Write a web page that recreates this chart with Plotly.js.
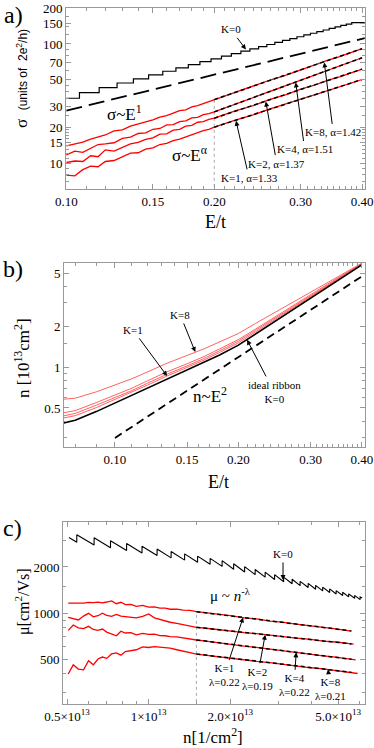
<!DOCTYPE html>
<html><head><meta charset="utf-8">
<script src="https://cdn.plot.ly/plotly-3.0.1.min.js"></script>
<style>html,body{margin:0;padding:0;background:#fff}#chart{width:374px;height:748px}</style>
</head><body><div id="chart"></div>
<script>
// ---------- Panel a: conductance sigma vs E/t ----------
const E_a = [0.100,0.104,0.108,0.112,0.116,0.120,0.125,0.130,0.135,0.140,0.145,0.150,0.155,0.160,0.165,0.170,0.175,0.180,0.185,0.190,0.195,0.200,0.22,0.24,0.26,0.28,0.30,0.32,0.34,0.36,0.38,0.40];
const sigK8 = [13.9,14.4,15.0,15.9,16.5,17.2,18.6,19.0,20.4,21.2,21.9,23.0,24.3,25.0,26.2,27.5,28.0,29.6,30.3,31.5,32.6,34.1,39.2,44.0,49.8,54.8,60.9,66.3,72.7,78.4,85.2,91.3];
const sigK4 = [11.7,12.6,12.3,13.3,14.3,14.5,14.8,16.1,16.5,17.7,17.9,19.2,19.5,20.9,21.0,22.3,22.6,23.9,24.2,25.5,26.0,26.9,31.0,35.6,39.8,44.9,49.4,54.9,59.8,65.5,70.7,76.6];
const sigK2 = [10.1,10.4,10.3,11.5,11.3,12.9,12.6,13.6,14.5,14.9,15.8,16.3,17.5,17.6,18.9,19.2,20.4,20.7,22.0,22.3,23.3,23.8,27.3,30.4,34.3,37.5,41.7,45.1,49.4,53.0,57.6,61.5];
const sigK1 = [7.9,7.8,8.8,9.4,9.3,10.3,10.5,11.3,12.1,12.2,13.1,13.4,14.3,14.6,15.4,15.9,16.6,17.2,17.8,18.7,19.2,20.0,22.8,25.4,28.5,31.2,34.4,37.3,40.6,43.6,47.1,50.3];
// ideal ribbon staircase (K=0)
const stepE = [0.100,0.1063,0.1166,0.1268,0.1369,0.1470,0.1571,0.1671,0.1771,0.1870,0.1970,0.2069,0.2167,0.2266,0.2364,0.2462,0.2559,0.2657,0.2754,0.2851,0.2947,0.3044,0.3140,0.3236,0.3332,0.3428,0.3524,0.3620,0.3715,0.3811,0.405];
const stepSig = [35,39,43,47,51,55,59,63,67,71,75,79,83,87,91,95,99,103,107,111,115,119,123,127,131,135,139,143,147,151,151];
// power-law guides and fits
const linE = [0.10,0.405], linSig = [27.6,111.8];
const fitE_a = [0.20,0.40];
const fitK8_a = [34.1,91.3], fitK4_a = [26.9,76.6], fitK2_a = [23.8,61.5], fitK1_a = [20.0,50.3];

// ---------- Panel b: carrier density n vs E/t ----------
const E_b = [0.075,0.08,0.09,0.10,0.11,0.12,0.134,0.15,0.165,0.18,0.20,0.22,0.25,0.28,0.30,0.33,0.36,0.40];
const nK0 = [0.387,0.405,0.47,0.544,0.615,0.70,0.82,0.95,1.08,1.235,1.46,1.76,2.27,2.85,3.27,3.94,4.67,5.74];
const nK8 = [0.581,0.591,0.658,0.740,0.824,0.924,1.074,1.226,1.372,1.544,1.781,2.112,2.633,3.192,3.597,4.255,4.950,5.912];
const nK4 = [0.461,0.478,0.548,0.626,0.701,0.795,0.927,1.064,1.204,1.371,1.606,1.918,2.452,3.050,3.466,4.137,4.833,5.855];
const nK2 = [0.437,0.456,0.524,0.598,0.673,0.763,0.890,1.026,1.164,1.328,1.562,1.874,2.395,2.993,3.401,4.078,4.787,5.826];
const nK1 = [0.422,0.439,0.503,0.577,0.651,0.739,0.863,0.998,1.132,1.291,1.518,1.827,2.349,2.936,3.362,4.027,4.740,5.786];
const sqE = [0.10,0.40], sqN = [0.30,4.72];

// ---------- Panel c: mobility mu vs n (units 1e13 cm^-2) ----------
const nJump = [0.543,0.629,0.723,0.829,0.945,1.074,1.210,1.357,1.515,1.685,1.866,2.058,2.259,2.470,2.689,2.914,3.147,3.382,3.620,3.875,4.129,4.383,4.651,4.915,5.194,5.466,5.752,6.027];
const muLow = [2904,2781,2669,2563,2467,2376,2294,2218,2148,2082,2017,1932,1854,1781,1716,1656,1601,1554,1510,1469,1430,1395,1362,1331,1301,1275,1248,1224];
const muHigh = [3250,3104,2971,2846,2732,2624,2527,2437,2354,2276,2199,2100,2010,1926,1850,1781,1717,1662,1611,1563,1517,1476,1437,1400,1366,1334,1303,1274];
const nK0Ends = [0.508,6.13], muK0Ends = [3120,1255];
const n_c = [0.505,0.527,0.55,0.575,0.60,0.625,0.65,0.675,0.70,0.73,0.76,0.79,0.82,0.86,0.90,0.95,1.0,1.05,1.1,1.15,1.2,1.27,1.34,1.42,1.50,1.6,1.8,2.0,2.25,2.5,2.8,3.1,3.5,3.9,4.4,4.9,5.5];
const muK1 = [1160,1158,1165,1162,1172,1168,1178,1165,1180,1200,1150,1175,1135,1140,1105,1120,1094,1098,1075,1075,1058,1060,1045,1040,1020,1008,978,960,930,914,886,872,845,829,803,788,765];
const muK2 = [937,915,900,955,995,945,960,998,965,950,980,955,950,945,930,950,985,930,905,890,870,855,840,820,806,798,777,765,744,733,714,704,684,674,655,646,629];
const muK4 = [770,835,800,790,818,780,770,785,750,725,710,760,740,745,720,735,725,728,712,710,700,698,685,675,666,658,639,626,608,596,580,569,552,541,525,514,499];
const muK8 = [399,458,430,425,487,458,500,515,505,540,548,530,560,565,575,600,595,602,598,594,590,575,560,550,539,531,520,506,496,483,474,462,452,440,431,419,411];
const tailN = {K2:5.7, K4:5.8, K8:5.9}, tailMu = {K2:626, K4:493, K8:402};
const fitN_c = [1.5,5.6];
const fitK1_c = [1020,763], fitK2_c = [806,628], fitK4_c = [666,498], fitK8_c = [539,409];

// ---------- build ----------
const W = 374, H = 748;
const PX = x => x / W, PY = y => 1 - y / H;
const L10 = Math.log10;
const RED = '#ff0000';
const traces = [];
function tr(x, y, xa, ya, line, extra) {
  traces.push(Object.assign({x, y, xaxis: xa, yaxis: ya, mode: 'lines', line, hoverinfo: 'skip', showlegend: false}, extra || {}));
}
// panel a
tr([0.2,0.2],[5,34.1],'x','y',{color:'#aaa',width:1,dash:'dot'});
tr(stepE, stepSig, 'x','y',{color:'#000',width:1.2,shape:'hv'});
tr(linE, linSig, 'x','y',{color:'#000',width:1.8,dash:'16px,7px'});
[sigK8,sigK4,sigK2,sigK1].forEach(s => tr(E_a, s, 'x','y',{color:RED,width:1.3}));
[fitK8_a,fitK4_a,fitK2_a,fitK1_a].forEach(s => tr(fitE_a, s, 'x','y',{color:'#000',width:1.5,dash:'4px,3px'}));
// panel b
[nK8,nK4,nK2,nK1].forEach(s => tr(E_b, s, 'x2','y2',{color:'#ff5050',width:0.9}));
tr(E_b, nK0, 'x2','y2',{color:'#000',width:1.6});
tr(sqE, sqN, 'x2','y2',{color:'#000',width:1.8,dash:'8px,5px'});
// panel c
tr([1.5,1.5],[200,1020],'x3','y3',{color:'#aaa',width:1,dash:'dot'});
const k0x = [nK0Ends[0]], k0y = [muK0Ends[0]];
nJump.forEach((n,i) => { k0x.push(n, n); k0y.push(muLow[i], muHigh[i]); });
k0x.push(nK0Ends[1]); k0y.push(muK0Ends[1]);
tr(k0x, k0y, 'x3','y3',{color:'#000',width:1.1});
tr(n_c, muK1, 'x3','y3',{color:RED,width:1.3});
tr(n_c.concat([tailN.K2]), muK2.concat([tailMu.K2]), 'x3','y3',{color:RED,width:1.3});
tr(n_c.concat([tailN.K4]), muK4.concat([tailMu.K4]), 'x3','y3',{color:RED,width:1.3});
tr(n_c.concat([tailN.K8]), muK8.concat([tailMu.K8]), 'x3','y3',{color:RED,width:1.3});
[fitK1_c,fitK2_c,fitK4_c,fitK8_c].forEach(s => tr(fitN_c, s, 'x3','y3',{color:'#000',width:1.5,dash:'4px,3px'}));

const TF = {family:'Liberation Serif, Times New Roman, serif', size:13, color:'#000'};
function axis(domain, range, anchor, tickvals, ticktext, minorvals) {
  return {type:'log', domain, range, anchor, tickmode:'array', tickvals, ticktext,
    ticks:'inside', ticklen:5, tickcolor:'#999', tickwidth:1, showline:true, linecolor:'#999', linewidth:1,
    mirror:'ticks', showgrid:false, zeroline:false, tickfont:TF, automargin:false, fixedrange:true,
    ticklabeloverflow:'allow',
    minor:{tickvals:minorvals, ticks:'inside', ticklen:3, tickcolor:'#999', showgrid:false}};
}
const minorE = [0.08,0.09,0.11,0.12,0.13,0.14,0.16,0.17,0.18,0.19,0.21,0.22,0.23,0.24,0.25,0.26,0.27,0.28,0.29,0.31,0.32,0.33,0.34,0.35,0.36,0.37,0.38,0.39];
const layout = {
  width: W, height: H, margin:{l:0,r:0,t:0,b:0}, paper_bgcolor:'#fff', plot_bgcolor:'#fff', showlegend:false,
  xaxis: axis([66/W,365/W],[L10(0.0998),L10(0.4055)],'y',[0.10,0.15,0.20,0.30,0.40],['0.10','0.15','0.20','0.30','0.40'],minorE),
  yaxis: axis([1-189/H,1-8/H],[L10(6.05),L10(200.5)],'x',[10,15,20,30,50,70,100,150,200],['10','15','20','30','50','70','100','150','200'],[7,8,9,11,12,13,14,16,17,18,19,25,35,40,45,60,80,90,120,140,170]),
  xaxis2: axis([64/W,365/W],[L10(0.0751),L10(0.4073)],'y2',[0.10,0.15,0.20,0.30,0.40],['0.10','0.15','0.20','0.30','0.40'],minorE),
  yaxis2: axis([1-447/H,1-263/H],[L10(0.257),L10(5.93)],'x2',[0.5,1,2,5],['0.5','1','2','5'],[0.3,0.4,0.6,0.7,0.8,0.9,1.5,3,4]),
  xaxis3: axis([63/W,365/W],[L10(0.483),L10(6.28)],'y3',[0.5,1,2,5],['0.5×10<sup>13</sup>','1×10<sup>13</sup>','2.0×10<sup>13</sup>','5.0×10<sup>13</sup>'],[0.6,0.7,0.8,0.9,1.5,3,4,6]),
  yaxis3: axis([1-704/H,1-522/H],[L10(254),L10(3937)],'x3',[500,1000,2000],['500','1000','2000'],[300,400,600,700,800,900,1500,3000]),
  annotations: []
};
const SER = 'Liberation Serif, Times New Roman, serif';
function txt(x, y, text, size, extra) {
  layout.annotations.push(Object.assign({xref:'paper', yref:'paper', x:PX(x), y:PY(y), text, showarrow:false,
    xanchor:'center', yanchor:'middle', font:{family:SER, size, color:'#000'}}, extra || {}));
}
// label with an arrow whose head sits on a data point (log axes -> log10 coords); ax/ay = label offset in px
function label(xa, ya, xv, yv, ax, ay, text) {
  layout.annotations.push({xref:xa, yref:ya, x:L10(xv), y:L10(yv), text, showarrow:true,
    arrowhead:2, arrowsize:1, arrowwidth:1, arrowcolor:'#000', ax, ay, standoff:0, startstandoff:1,
    font:{family:SER, size:11, color:'#000'}});
}
// panel labels
txt(14,15,'a)',24); txt(13,269,'b)',24); txt(12,528,'c)',24);
// axis titles
txt(22,79,'σ  <span style="font-family:Liberation Sans, Arial, sans-serif;font-size:12px">(units of  2e<sup>2</sup>/h)</span>',17,{textangle:-90});
txt(215,222,'E/t',18);
txt(22,358,'n [10<sup>13</sup>cm<sup>2</sup>]',17,{textangle:-90});
txt(218,482,'E/t',18);
txt(22,602,'μ[cm<sup>2</sup>/Vs]',16,{textangle:-90});
txt(213,736,'n[1/cm<sup>2</sup>]',17);
// panel a annotations
label('x','y',0.232,89.9,-15,-20,'K=0');
txt(124,113,'σ~E<sup>1</sup>',17);
txt(189,154,'σ~E<sup>α</sup>',17);
label('x','y',0.2215,22.6,13,57,'K=1, α=1.33');
label('x','y',0.2547,32.8,11,62,'K=2, α=1.37');
label('x','y',0.293,47.5,9,67,'K=4, α=1.51');
label('x','y',0.335,70,9,70,'K=8, α=1.42');
// panel b annotations
label('x2','y2',0.157,1.30,-15,-37,'K=8');
label('x2','y2',0.134,0.863,-34,-46,'K=1');
label('x2','y2',0.21,1.6,27,52,'ideal ribbon<br>K=0');
txt(210,395,'n~E<sup>2</sup>',17);
// panel c annotations
label('x3','y3',3.13,1645,0,-26,'K=0');
txt(230,595,'μ ~ <i>n</i><sup>-λ</sup>',15);
label('x3','y3',2.23,935,-19,58,'K=1<br>λ=0.22');
label('x3','y3',2.69,721,-8,44,'K=2<br>λ=0.19');
label('x3','y3',3.50,553,-2,33,'K=4<br>λ=0.22');
label('x3','y3',4.59,428,2,20,'K=8<br>λ=0.21');

Plotly.newPlot('chart', traces, layout, {staticPlot:true, displayModeBar:false});
</script></body></html>
